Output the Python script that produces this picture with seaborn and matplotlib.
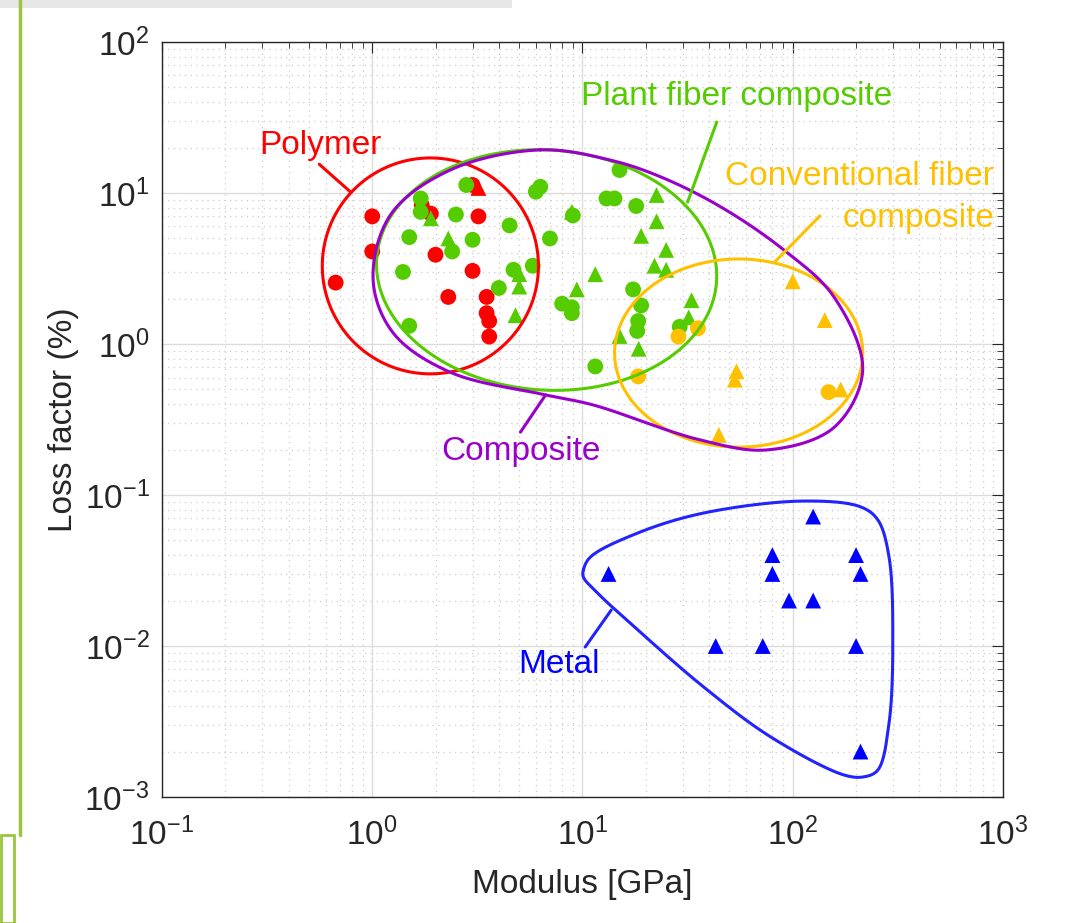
import numpy as np
import pandas as pd
import matplotlib
matplotlib.use("Agg")
import matplotlib.pyplot as plt
import seaborn as sns
from matplotlib.lines import Line2D
from matplotlib.patches import Rectangle
from matplotlib.ticker import LogLocator, NullFormatter

# ---------------- data ----------------
polymer_circle_modulus = [0.67, 1.0, 1.0, 1.72, 1.9, 2.0, 2.3, 3.0, 3.0, 3.2, 3.5, 3.5, 3.6, 3.6]
polymer_circle_loss = [2.55, 7.0, 4.1, 8.3, 7.3, 3.9, 2.05, 11.3, 3.05, 7.0, 2.05, 1.6, 1.42, 1.12]
polymer_triangle_modulus = [3.2]
polymer_triangle_loss = [10.8]

plant_circle_modulus = [2.8, 1.7, 1.7, 2.5, 4.5, 1.5, 3.0, 2.4, 7.0, 1.4, 4.7, 5.8, 4.0, 1.5,
                        6.0, 6.3, 15, 13, 14.2, 18, 9.0, 17.4, 19, 8.0, 8.9, 8.9, 18.4, 18.2,
                        11.5, 29]
plant_circle_loss = [11.3, 9.2, 7.5, 7.2, 6.1, 5.1, 4.9, 4.1, 5.0, 3.0, 3.1, 3.3, 2.35, 1.32,
                     10.2, 11.0, 14.2, 9.2, 9.2, 8.2, 7.1, 2.3, 1.8, 1.85, 1.75, 1.6, 1.42, 1.22,
                     0.71, 1.3]
plant_triangle_modulus = [1.9, 2.3, 5.0, 5.0, 4.8, 8.9, 22.5, 22.5, 19, 25, 22, 25, 11.5, 9.4,
                          33, 32, 15, 18.5]
plant_triangle_loss = [6.8, 5.0, 2.9, 2.4, 1.55, 7.5, 9.7, 6.5, 5.2, 4.2, 3.3, 3.1, 2.9, 2.3,
                       1.95, 1.5, 1.13, 0.93]

conv_circle_modulus = [28.6, 35.4, 18.4, 148]
conv_circle_loss = [1.12, 1.27, 0.61, 0.48]
conv_triangle_modulus = [100, 142, 54, 53, 169, 44.5]
conv_triangle_loss = [2.6, 1.44, 0.66, 0.58, 0.5, 0.25]

metal_triangle_modulus = [13.3, 125, 80, 80, 200, 210, 96, 125, 43, 72, 200, 210]
metal_triangle_loss = [0.03, 0.072, 0.04, 0.03, 0.04, 0.03, 0.02, 0.02, 0.01, 0.01, 0.01, 0.002]

# region outlines (annotation shapes, in data units)
composite_outline_modulus = [6.3, 13.6, 23.5, 45.4, 90.6, 157, 215, 157, 76, 36.5, 11.3, 6.7,
                             2.35, 1.26, 1.01, 1.22, 2.35]
composite_outline_loss = [19.3, 16.5, 12.8, 8.1, 4.2, 2.05, 0.67, 0.28, 0.199, 0.231, 0.394,
                          0.46, 0.65, 1.18, 2.65, 7.15, 14.2]
metal_outline_modulus = [10.1, 10.9, 18.3, 37.7, 113, 211, 254, 287, 299, 287, 254, 218, 175,
                         78.5, 37.7, 18.3, 11.8, 10.1]
metal_outline_loss = [0.0319, 0.0388, 0.056, 0.076, 0.0912, 0.0833, 0.0683, 0.0388, 0.011,
                      0.00309, 0.00151, 0.00136, 0.0014, 0.0025, 0.00535, 0.0128, 0.0224, 0.0286]

# ellipse outlines: centre (modulus, loss), half-widths in decades, tilt (deg)
polymer_ellipse = dict(center=(1.89, 3.29), radii=(0.514, 0.715), angle=0)
plant_ellipse = dict(center=(6.75, 3.09), radii=(0.81, 0.795), angle=-4)
conv_ellipse = dict(center=(55.3, 0.871), radii=(0.590, 0.623), angle=0)

colors = {"Polymer": "#FF0000", "Plant fiber composite": "#55CC00",
          "Conventional fiber composite": "#FFC000", "Metal": "#0000FF"}
composite_color = "#9900CC"
metal_line_color = "#2323FF"

# ---------------- build data frame ----------------
rows = []
def add(group, shape, xs, ys):
    for x, y in zip(xs, ys):
        rows.append(dict(modulus=x, loss=y, group=group, shape=shape))

add("Polymer", "circle", polymer_circle_modulus, polymer_circle_loss)
add("Plant fiber composite", "circle", plant_circle_modulus, plant_circle_loss)
add("Plant fiber composite", "triangle", plant_triangle_modulus, plant_triangle_loss)
add("Polymer", "triangle", polymer_triangle_modulus, polymer_triangle_loss)
add("Conventional fiber composite", "circle", conv_circle_modulus, conv_circle_loss)
add("Conventional fiber composite", "triangle", conv_triangle_modulus, conv_triangle_loss)
add("Metal", "triangle", metal_triangle_modulus, metal_triangle_loss)
df = pd.DataFrame(rows)

# ---------------- style ----------------
sns.set_theme(style="white")
plt.rcParams["font.family"] = ["Liberation Sans", "DejaVu Sans"]
plt.rcParams["mathtext.fontset"] = "custom"
plt.rcParams["mathtext.rm"] = "Liberation Sans"
plt.rcParams["mathtext.it"] = "Liberation Sans"

fig = plt.figure(figsize=(10.79, 9.23), dpi=100)
ax = fig.add_axes([0.1501, 0.1365, 0.7795, 0.818])
ax.set_xscale("log")
ax.set_yscale("log")
ax.set_xlim(0.1, 1000)
ax.set_ylim(0.001, 100)

ax.xaxis.set_major_locator(LogLocator(base=10, numticks=10))
ax.yaxis.set_major_locator(LogLocator(base=10, numticks=10))
ax.xaxis.set_minor_locator(LogLocator(base=10, subs=np.arange(2, 10), numticks=20))
ax.yaxis.set_minor_locator(LogLocator(base=10, subs=np.arange(2, 10), numticks=20))
ax.xaxis.set_minor_formatter(NullFormatter())
ax.yaxis.set_minor_formatter(NullFormatter())

ax.grid(True, which="major", color="#dcdcdc", linewidth=1.0, linestyle="-")
ax.grid(True, which="minor", color="#cccccc", linewidth=0.9, linestyle=(0, (1, 3.5)))
ax.set_axisbelow(True)

for s in ax.spines.values():
    s.set_color("#262626")
    s.set_linewidth(1.0)
ax.tick_params(which="both", direction="in", top=True, right=True, colors="#262626")
ax.tick_params(which="major", length=8, width=0.8, labelsize=24)
ax.tick_params(which="minor", length=4.5, width=0.6)
ax.tick_params(axis="x", which="major", pad=15)
ax.tick_params(axis="y", which="major", pad=9)

# ---------------- scatter via seaborn ----------------
sns.scatterplot(data=df, x="modulus", y="loss", hue="group", style="shape",
                palette=colors, markers={"circle": "o", "triangle": "^"},
                s=130, linewidth=0, legend=False, ax=ax, zorder=3)

# ---------------- outlines ----------------
ASPECT = 0.719  # pixel size of a y decade relative to an x decade

def ellipse(center, radii, angle, n=400):
    t = np.linspace(0, 2 * np.pi, n)
    u = radii[0] * np.cos(t)
    v = radii[1] * ASPECT * np.sin(t)
    a = np.deg2rad(angle)
    ur = u * np.cos(a) - v * np.sin(a)
    vr = u * np.sin(a) + v * np.cos(a)
    return 10 ** (np.log10(center[0]) + ur), 10 ** (np.log10(center[1]) + vr / ASPECT)

def closed_spline(xs, ys, n=40, alpha=0.5):
    P = np.column_stack([np.log10(xs), np.log10(ys) * ASPECT])
    m = len(P)
    out = []
    for i in range(m):
        p0, p1, p2, p3 = P[(i - 1) % m], P[i], P[(i + 1) % m], P[(i + 2) % m]
        t0 = 0.0
        t1 = t0 + np.linalg.norm(p1 - p0) ** alpha
        t2 = t1 + np.linalg.norm(p2 - p1) ** alpha
        t3 = t2 + np.linalg.norm(p3 - p2) ** alpha
        t = np.linspace(t1, t2, n, endpoint=False)[:, None]
        A1 = (t1 - t) / (t1 - t0) * p0 + (t - t0) / (t1 - t0) * p1
        A2 = (t2 - t) / (t2 - t1) * p1 + (t - t1) / (t2 - t1) * p2
        A3 = (t3 - t) / (t3 - t2) * p2 + (t - t2) / (t3 - t2) * p3
        B1 = (t2 - t) / (t2 - t0) * A1 + (t - t0) / (t2 - t0) * A2
        B2 = (t3 - t) / (t3 - t1) * A2 + (t - t1) / (t3 - t1) * A3
        C = (t2 - t) / (t2 - t1) * B1 + (t - t1) / (t2 - t1) * B2
        out.append(C)
    out.append(out[0][:1])
    Q = np.vstack(out)
    return 10 ** Q[:, 0], 10 ** (Q[:, 1] / ASPECT)

lw = 2.2
ex, ey = ellipse(**polymer_ellipse)
ax.plot(ex, ey, color=colors["Polymer"], lw=lw, zorder=4)
ex, ey = ellipse(**plant_ellipse)
ax.plot(ex, ey, color=colors["Plant fiber composite"], lw=lw, zorder=4)
ex, ey = ellipse(**conv_ellipse)
ax.plot(ex, ey, color=colors["Conventional fiber composite"], lw=lw, zorder=4)
cx, cy = closed_spline(composite_outline_modulus, composite_outline_loss)
ax.plot(cx, cy, color=composite_color, lw=lw, zorder=4)
mx, my = closed_spline(metal_outline_modulus, metal_outline_loss)
ax.plot(mx, my, color=metal_line_color, lw=lw, zorder=4)

# ---------------- labels with leader lines ----------------
fs = 24
def leader(p0, p1, color):
    ax.plot([p0[0], p1[0]], [p0[1], p1[1]], color=color, lw=lw, zorder=4)

ax.text(0.566, 20.5, "Polymer", color=colors["Polymer"], fontsize=fs, ha="center", va="center")
leader((0.56, 15.5), (0.786, 10.2), colors["Polymer"])

ax.text(53.8, 43.5, "Plant fiber composite", color=colors["Plant fiber composite"],
        fontsize=fs, ha="center", va="center")
leader((43.5, 29.5), (31.6, 8.7), colors["Plant fiber composite"])

ax.text(906, 9.3, "Conventional fiber\ncomposite", color=colors["Conventional fiber composite"],
        fontsize=fs, ha="right", va="center", multialignment="right", linespacing=1.45)
leader((134.5, 7.04), (82, 3.49), colors["Conventional fiber composite"])

ax.text(5.07, 0.194, "Composite", color=composite_color, fontsize=fs, ha="center", va="center")
leader((5.07, 0.261), (6.67, 0.459), composite_color)

ax.text(7.69, 0.0075, "Metal", color=colors["Metal"], fontsize=fs, ha="center", va="center")
leader((10.3, 0.00985), (13.7, 0.0173), metal_line_color)

ax.set_xlabel("Modulus [GPa]", fontsize=24, color="#262626", labelpad=12)
ax.set_ylabel("Loss factor (%)", fontsize=24, color="#262626", labelpad=4)

# ---------------- page decoration seen in the screenshot ----------------
fig.add_artist(Line2D([20 / 1079, 20 / 1079], [1 - 835 / 923, 1.0], transform=fig.transFigure,
                      color="#9BC53D", lw=2.5))
fig.add_artist(Rectangle((0.5 / 1079, 0.0), 13 / 1079, 88 / 923, transform=fig.transFigure,
                         fill=False, edgecolor="#9BC53D", lw=2.0))
fig.add_artist(Rectangle((0.0, 1 - 8 / 923), 512 / 1079, 8 / 923, transform=fig.transFigure,
                         facecolor="#e6e6e6", edgecolor="none"))

fig.savefig("out.png", dpi=100)
